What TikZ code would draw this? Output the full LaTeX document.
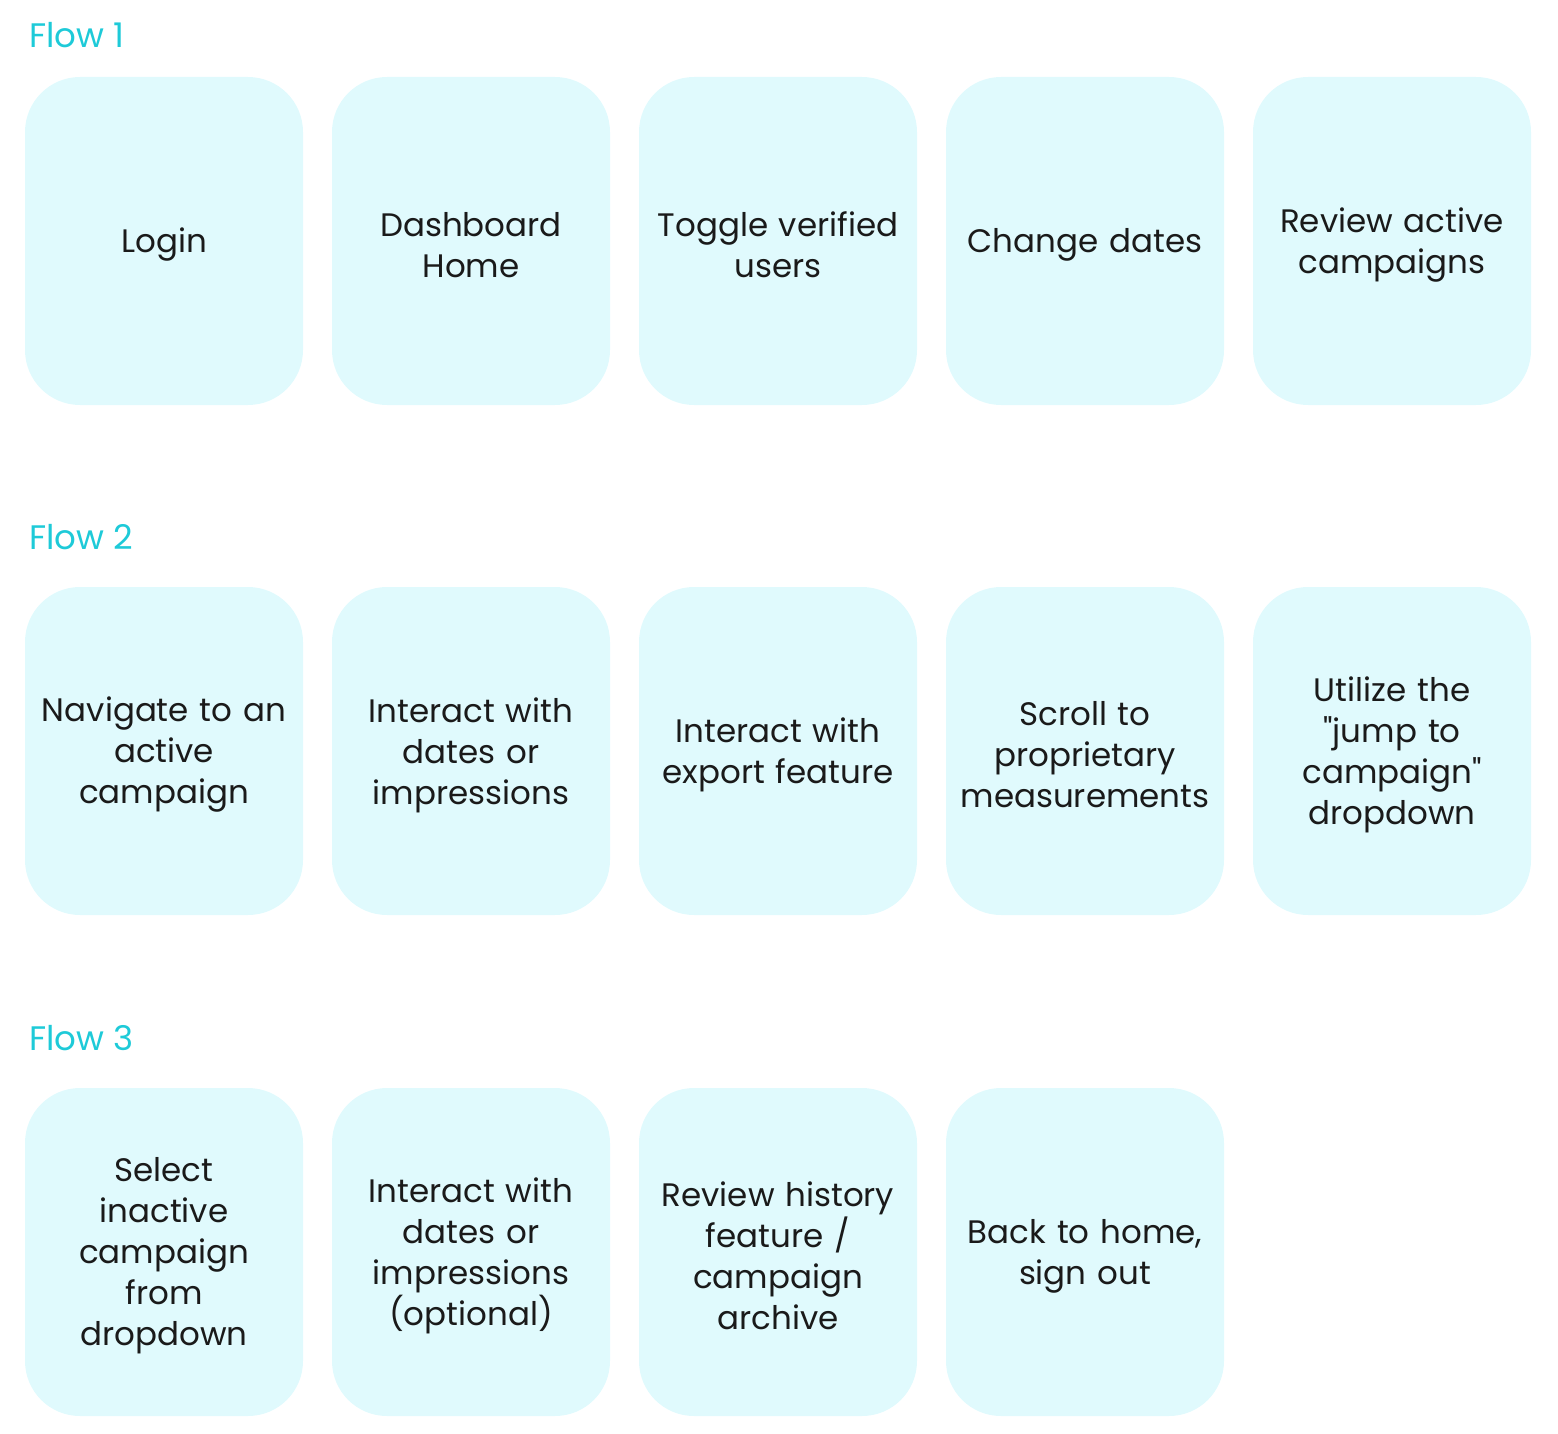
\documentclass[tikz,border=0pt]{standalone}
\usepackage{fontspec}
\newfontfamily\popfont{Poppins}
\definecolor{boxfill}{HTML}{E0FAFD}
\definecolor{flowcol}{HTML}{1ECAD8}
\definecolor{txt}{HTML}{1A1A1A}
\begin{document}
\begin{tikzpicture}[x=1pt,y=-1pt,
  stepbox/.style={fill=boxfill, draw=none, rounded corners=55pt, minimum width=278pt, minimum height=328pt, inner sep=0pt},
  steptext/.style={text width=276pt, align=center, inner sep=0pt, text=txt, font=\popfont\fontsize{32.5}{41}\selectfont},
  flowlabel/.style={anchor=base west, text=flowcol, inner sep=0pt, font=\popfont\fontsize{34}{40}\selectfont}]
\useasboundingbox (0,0) rectangle (1558,1434);
\node[flowlabel] (f1) at (29,48) {Flow 1};
\node[flowlabel] (f2) at (29,549) {Flow 2};
\node[flowlabel] (f3) at (29,1050) {Flow 3};
% boxes
\foreach \r/\y/\n in {a/241/5,b/751/5,c/1252/4}{
  \foreach \i in {1,...,\n}{
    \node[stepbox] (\r\i) at ({164+307*(\i-1)},\y) {};
  }
}
% row 1
\node[steptext] (ta1) at ([yshift=-4pt]a1.center) {Login};
\node[steptext] (ta2) at ([yshift=-4pt]a2.center) {Dashboard\\Home};
\node[steptext] (ta3) at ([yshift=-4pt]a3.center) {Toggle verified\\users};
\node[steptext] (ta4) at ([yshift=-4pt]a4.center) {Change dates};
\node[steptext] (ta5) at ([yshift=-4pt]a5.center) {Review active\\campaigns};
% row 2
\node[steptext] (tb1) at ([yshift=-4pt]b1.center) {Navigate to an\\active\\campaign};
\node[steptext] (tb2) at ([yshift=-4pt]b2.center) {Interact with\\dates or\\impressions};
\node[steptext] (tb3) at ([yshift=-4pt]b3.center) {Interact with\\export feature};
\node[steptext] (tb4) at ([yshift=-4pt]b4.center) {Scroll to\\proprietary\\measurements};
\node[steptext] (tb5) at ([yshift=-4pt]b5.center) {Utilize the\\"jump to\\campaign"\\dropdown};
% row 3
\node[steptext] (tc1) at ([yshift=-4pt]c1.center) {Select\\inactive\\campaign\\from\\dropdown};
\node[steptext] (tc2) at ([yshift=-4pt]c2.center) {Interact with\\dates or\\impressions\\(optional)};
\node[steptext] (tc3) at ([yshift=-4pt]c3.center) {Review history\\feature /\\campaign\\archive};
\node[steptext] (tc4) at ([yshift=-4pt]c4.center) {Back to home,\\sign out};
\end{tikzpicture}
\end{document}
